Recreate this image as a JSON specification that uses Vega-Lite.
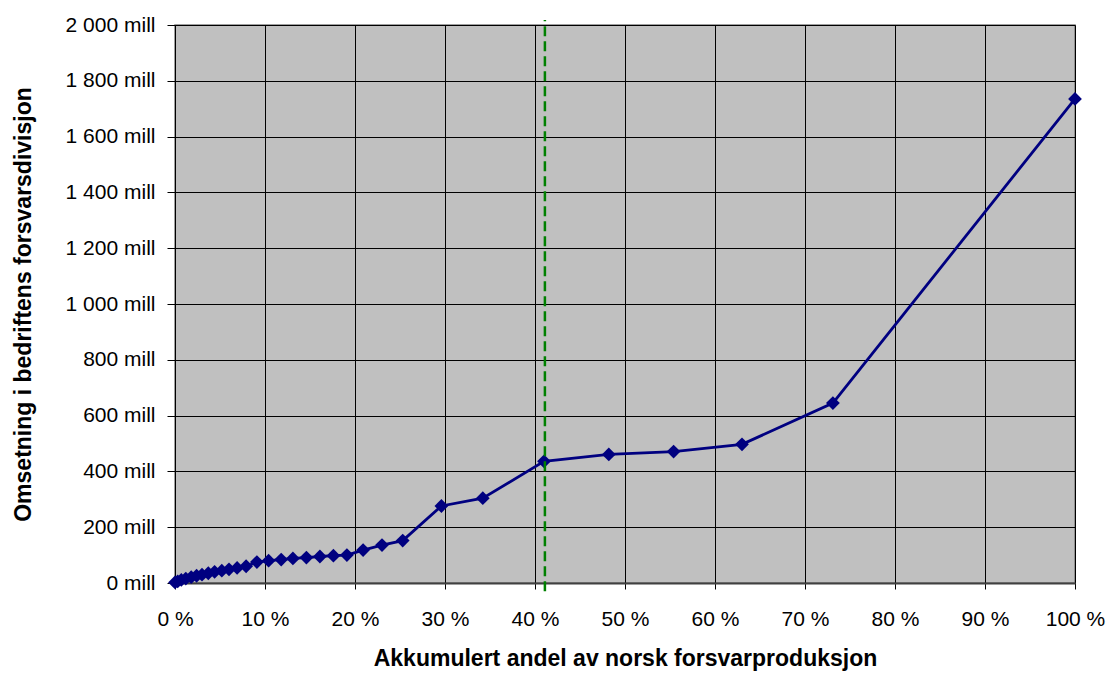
{
  "$schema": "https://vega.github.io/schema/vega-lite/v6.json",
  "width": 900,
  "height": 558,
  "autosize": {"type": "none"},
  "padding": {"left": 175, "top": 25, "right": 38, "bottom": 90},
  "background": "#ffffff",
  "config": {
    "font": "Liberation Sans",
    "view": {"fill": "#c0c0c0", "stroke": "#808080", "strokeWidth": 1.5}
  },
  "datasets": {
    "companies": [
      {"andel": 0.0, "omsetning": 2},
      {"andel": 0.3, "omsetning": 6},
      {"andel": 0.7, "omsetning": 11},
      {"andel": 1.2, "omsetning": 16},
      {"andel": 1.8, "omsetning": 21},
      {"andel": 2.4, "omsetning": 26},
      {"andel": 3.0, "omsetning": 30},
      {"andel": 3.7, "omsetning": 35},
      {"andel": 4.4, "omsetning": 40},
      {"andel": 5.2, "omsetning": 44},
      {"andel": 6.0, "omsetning": 49},
      {"andel": 6.9, "omsetning": 54},
      {"andel": 7.9, "omsetning": 60},
      {"andel": 9.1, "omsetning": 75},
      {"andel": 10.4, "omsetning": 80},
      {"andel": 11.8, "omsetning": 84},
      {"andel": 13.1, "omsetning": 88},
      {"andel": 14.6, "omsetning": 91},
      {"andel": 16.1, "omsetning": 95},
      {"andel": 17.6, "omsetning": 98},
      {"andel": 19.1, "omsetning": 100},
      {"andel": 20.9, "omsetning": 118},
      {"andel": 23.0, "omsetning": 136},
      {"andel": 25.3, "omsetning": 152},
      {"andel": 29.6, "omsetning": 276},
      {"andel": 34.2, "omsetning": 304},
      {"andel": 41.0, "omsetning": 436},
      {"andel": 48.2, "omsetning": 461},
      {"andel": 55.4, "omsetning": 471},
      {"andel": 63.0, "omsetning": 497},
      {"andel": 73.1, "omsetning": 645},
      {"andel": 100.0, "omsetning": 1735}
    ],
    "marker": [{"andel": 41.1, "fra": -30, "til": 2018}]
  },
  "layer": [
    {
      "data": {"name": "companies"},
      "mark": {
        "type": "line",
        "color": "#000080",
        "strokeWidth": 2.8,
        "point": {"shape": "diamond", "size": 190, "filled": true, "color": "#000080"}
      },
      "encoding": {
        "x": {
          "field": "andel",
          "type": "quantitative",
          "scale": {"domain": [0, 100], "nice": false, "zero": true},
          "axis": {
            "title": "Akkumulert andel av norsk forsvarproduksjon",
            "titleFont": "Liberation Sans",
            "titleFontSize": 23,
            "titleFontWeight": "bold",
            "titleColor": "#000000",
            "titlePadding": 18,
            "values": [0, 10, 20, 30, 40, 50, 60, 70, 80, 90, 100],
            "labelExpr": "datum.value + ' %'",
            "labelFontSize": 21,
            "labelColor": "#000000",
            "labelPadding": 19,
            "labelFlush": false,
            "labelOverlap": false,
            "tickColor": "#000000",
            "tickSize": 6,
            "domainColor": "#404040",
            "domainWidth": 2,
            "grid": true,
            "gridColor": "#000000",
            "gridWidth": 1,
            "gridOpacity": 1
          }
        },
        "y": {
          "field": "omsetning",
          "type": "quantitative",
          "scale": {"domain": [0, 2000], "nice": false},
          "axis": {
            "title": "Omsetning i bedriftens forsvarsdivisjon",
            "titleFont": "Liberation Sans",
            "titleFontSize": 23,
            "titleFontWeight": "bold",
            "titleColor": "#000000",
            "titlePadding": 30,
            "values": [0, 200, 400, 600, 800, 1000, 1200, 1400, 1600, 1800, 2000],
            "labelExpr": "replace(format(datum.value, ',d'), ',', ' ') + ' mill'",
            "labelFontSize": 21,
            "labelColor": "#000000",
            "labelPadding": 12,
            "labelFlush": false,
            "labelOverlap": false,
            "tickColor": "#000000",
            "tickSize": 8,
            "domainColor": "#000000",
            "domainWidth": 1,
            "grid": true,
            "gridColor": "#000000",
            "gridWidth": 1,
            "gridOpacity": 1
          }
        }
      }
    },
    {
      "data": {"name": "marker"},
      "mark": {"type": "rule", "color": "#008000", "strokeWidth": 2.5, "strokeDash": [10, 5], "clip": false},
      "encoding": {
        "x": {"field": "andel", "type": "quantitative"},
        "y": {"field": "fra", "type": "quantitative"},
        "y2": {"field": "til"}
      }
    }
  ]
}
